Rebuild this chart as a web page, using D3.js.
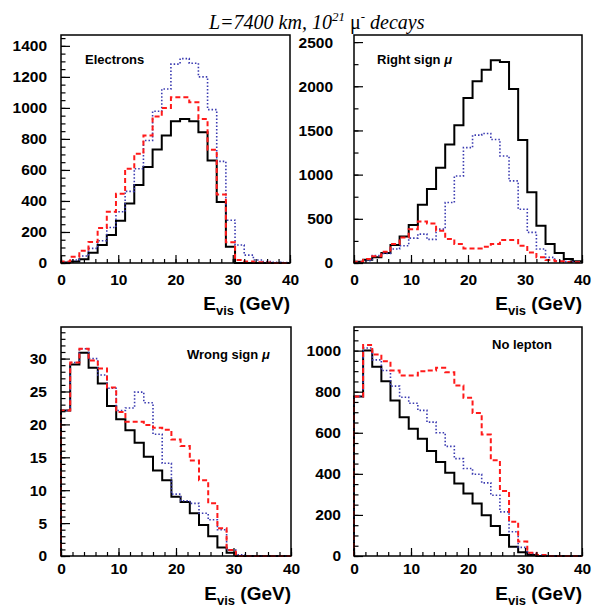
<!DOCTYPE html>
<html>
<head>
<meta charset="utf-8">
<script src="https://cdn.jsdelivr.net/npm/d3@7"></script>
<style>
  html, body { margin: 0; padding: 0; background: #fff; }
  svg { display: block; }
  .tick text { font-family: "Liberation Sans", Arial, Helvetica, sans-serif; font-weight: bold; }
</style>
</head>
<body>
<svg id="chart" width="592" height="607"></svg>
<script>
// ---------------- DATA ----------------
// 25 bins of width 1.6 GeV from 0 to 40 GeV
const binEdgesGeV = d3.range(0, 26).map(i => i * 1.6);
const xTickLabels = [0, 10, 20, 30, 40];

// Electrons
const elecSolid  = [3, 9, 24, 66, 116, 180, 272, 383, 503, 619, 732, 822, 914, 929, 914, 843, 661, 394, 105, 0, 0, 0, 0, 0, 0];
const elecDashed = [9, 41, 79, 135, 225, 330, 447, 608, 704, 822, 944, 1000, 1068, 1068, 1036, 929, 730, 441, 133, 19, 9, 5, 3, 0, 0];
const elecDotted = [5, 19, 45, 94, 143, 229, 330, 462, 608, 790, 978, 1122, 1282, 1318, 1288, 1200, 989, 655, 276, 116, 51, 19, 9, 5, 3];

// Right sign mu
const rightSolid  = [15, 38, 64, 113, 203, 301, 429, 658, 838, 1079, 1342, 1560, 1868, 2056, 2188, 2293, 2274, 1970, 1391, 801, 421, 214, 113, 45, 19];
const rightDashed = [15, 45, 75, 128, 214, 289, 383, 470, 447, 365, 271, 214, 165, 165, 184, 214, 259, 259, 195, 120, 64, 34, 19, 11, 8];
const rightDotted = [8, 26, 83, 109, 158, 195, 282, 327, 267, 383, 684, 985, 1305, 1447, 1466, 1398, 1211, 929, 609, 346, 158, 64, 26, 15, 8];

// Wrong sign mu
const wrongSolid  = [22.1, 29.1, 30.9, 28.6, 26.2, 22.8, 20.8, 19.1, 17.2, 15.1, 13.0, 11.5, 9.0, 8.2, 6.5, 4.7, 3.0, 1.3, 0.5, 0, 0, 0, 0, 0, 0];
const wrongDashed = [22.1, 29.4, 31.5, 29.7, 28.5, 25.6, 21.9, 20.4, 20.4, 19.9, 19.5, 19.2, 17.7, 16.7, 14.5, 11.5, 8.0, 4.2, 0.9, 0, 0, 0, 0, 0, 0];
const wrongDotted = [22.1, 29.4, 31.5, 30.0, 27.5, 25.5, 22.1, 22.5, 24.9, 23.3, 18.5, 14.1, 9.4, 8.4, 8.0, 6.5, 5.5, 4.0, 0.9, 0.2, 0, 0, 0, 0, 0];

// No lepton
const noLepSolid  = [777, 1000, 922, 851, 757, 676, 620, 571, 511, 458, 405, 353, 304, 256, 199, 146, 102, 45, 18, 5, 0, 0, 0, 0, 0];
const noLepDashed = [777, 1027, 981, 948, 903, 879, 879, 900, 903, 916, 895, 830, 770, 696, 592, 466, 317, 167, 70, 16, 5, 0, 0, 0, 0];
const noLepDotted = [777, 1013, 955, 903, 827, 773, 744, 709, 652, 600, 534, 474, 426, 398, 356, 296, 215, 118, 42, 13, 5, 0, 0, 0, 0];

// Y tick labels
const yTicksElec  = [0, 200, 400, 600, 800, 1000, 1200, 1400];
const yTicksRight = [0, 500, 1000, 1500, 2000, 2500];
const yTicksWrong = [0, 5, 10, 15, 20, 25, 30];
const yTicksNoLep = [0, 200, 400, 600, 800, 1000];

const panelTitles = ["Electrons", "Right sign μ", "Wrong sign μ", "No lepton"];

// ---------------- LAYOUT ----------------
const panels = [
  { x0: 61,  x1: 290, y0: 35,  y1: 263, ymax: 1470, ticks: yTicksElec,  minor: 50,  lblX: 47,
    series: [elecSolid, elecDotted, elecDashed],  title: panelTitles[0], tx: 85,  ty: 64,  xLblBase: 285, xTitleBase: 310 },
  { x0: 354, x1: 582, y0: 35,  y1: 263, ymax: 2580, ticks: yTicksRight, minor: 250, lblX: 333,
    series: [rightSolid, rightDotted, rightDashed], title: panelTitles[1], tx: 377, ty: 64,  xLblBase: 285, xTitleBase: 310 },
  { x0: 61,  x1: 291, y0: 327, y1: 556, ymax: 34.8, ticks: yTicksWrong, minor: 1,   lblX: 47,
    series: [wrongSolid, wrongDotted, wrongDashed], title: panelTitles[2], tx: 187, ty: 359, xLblBase: 574, xTitleBase: 600 },
  { x0: 354, x1: 582, y0: 327, y1: 556, ymax: 1115, ticks: yTicksNoLep, minor: 50,  lblX: 341,
    series: [noLepSolid, noLepDotted, noLepDashed], title: panelTitles[3], tx: 492, ty: 349, xLblBase: 574, xTitleBase: 600 }
];

const styles = [
  { stroke: "#000000", width: 2.0, dash: null },
  { stroke: "#3a3ab0", width: 1.6, dash: "1.5,2" },
  { stroke: "#ff1a1a", width: 2.0, dash: "5,3" }
];

const svg = d3.select("#chart");
const FONT = '"Liberation Sans", Arial, Helvetica, sans-serif';
const intFmt = d3.format("d");

// Title
const title = svg.append("text")
  .attr("x", 209).attr("y", 29)
  .attr("font-family", '"Liberation Serif", "Times New Roman", serif')
  .attr("font-style", "italic")
  .attr("font-size", 20)
  .attr("fill", "#000");
title.append("tspan").text("L=7400 km, 10");
title.append("tspan").attr("dy", -8).attr("font-size", 13).text("21");
title.append("tspan").attr("dy", 8).text(" ");
title.append("tspan").attr("font-style", "normal").text("μ");
title.append("tspan").attr("dy", -8).attr("font-size", 13).attr("font-style", "normal").text("-");
title.append("tspan").attr("dy", 8).text(" decays");

panels.forEach(p => {
  const x = d3.scaleLinear().domain([0, 40]).range([p.x0, p.x1]);
  const y = d3.scaleLinear().domain([0, p.ymax]).range([p.y1, p.y0]);
  const g = svg.append("g");

  // histogram outlines
  p.series.forEach((vals, si) => {
    const st = styles[si];
    let d = `M${x(binEdgesGeV[0])},${y(0)} V${y(vals[0])}`;
    vals.forEach((v, i) => {
      if (i > 0) d += ` V${y(v)}`;
      d += ` H${x(binEdgesGeV[i + 1])}`;
    });
    d += ` V${y(0)}`;
    g.append("path")
      .attr("d", d)
      .attr("fill", "none")
      .attr("stroke", st.stroke)
      .attr("stroke-width", st.width)
      .attr("stroke-dasharray", st.dash)
      .attr("stroke-linejoin", "miter");
  });

  // minor x ticks
  const xMinor = d3.axisBottom(x).tickValues(d3.range(0, 41, 2)).tickSize(-4).tickFormat("");
  g.append("g").attr("transform", `translate(0,${p.y1})`).call(xMinor)
    .call(a => a.select(".domain").remove())
    .selectAll("line").attr("stroke-width", 1.2);
  // major x ticks + labels
  const xMajor = d3.axisBottom(x).tickValues(xTickLabels).tickSize(-8).tickPadding(0).tickFormat(intFmt);
  const gx = g.append("g").attr("transform", `translate(0,${p.y1})`).call(xMajor);
  gx.select(".domain").remove();
  gx.selectAll("line").attr("stroke-width", 1.2);
  gx.selectAll("text")
    .attr("y", p.xLblBase - p.y1).attr("dy", null)
    .attr("font-size", 15.5).attr("font-family", FONT).attr("font-weight", "bold").attr("fill", "#000");

  // minor y ticks
  const yMinorVals = d3.range(0, p.ymax + 1e-9, p.minor);
  const yMinor = d3.axisLeft(y).tickValues(yMinorVals).tickSize(-4.5).tickFormat("");
  g.append("g").attr("transform", `translate(${p.x0},0)`).call(yMinor)
    .call(a => a.select(".domain").remove())
    .selectAll("line").attr("stroke-width", 1.2);
  // major y ticks + labels
  const yMajor = d3.axisLeft(y).tickValues(p.ticks).tickSize(-9).tickPadding(p.x0 - p.lblX).tickFormat(intFmt);
  const gy = g.append("g").attr("transform", `translate(${p.x0},0)`).call(yMajor);
  gy.select(".domain").remove();
  gy.selectAll("line").attr("stroke-width", 1.2);
  gy.selectAll("text")
    .attr("font-size", 15.5).attr("font-family", FONT).attr("font-weight", "bold").attr("fill", "#000");

  // frame
  g.append("rect")
    .attr("x", p.x0).attr("y", p.y0)
    .attr("width", p.x1 - p.x0).attr("height", p.y1 - p.y0)
    .attr("fill", "none").attr("stroke", "#000").attr("stroke-width", 1.5);

  // x axis title
  const xt = g.append("text")
    .attr("x", p.x1).attr("y", p.xTitleBase)
    .attr("text-anchor", "end")
    .attr("font-family", FONT).attr("font-weight", "bold").attr("font-size", 19).attr("fill", "#000");
  xt.append("tspan").text("E");
  xt.append("tspan").attr("dy", 5).attr("font-size", 13).text("vis");
  xt.append("tspan").attr("dy", -5).text(" (GeV)");

  // panel label
  const words = p.title.split("μ");
  const tl = g.append("text")
    .attr("x", p.tx).attr("y", p.ty)
    .attr("font-family", FONT).attr("font-weight", "bold").attr("font-size", 13).attr("fill", "#000");
  tl.append("tspan").text(words[0]);
  if (p.title.includes("μ")) tl.append("tspan").attr("font-style", "italic").text("μ");
});
</script>
</body>
</html>
